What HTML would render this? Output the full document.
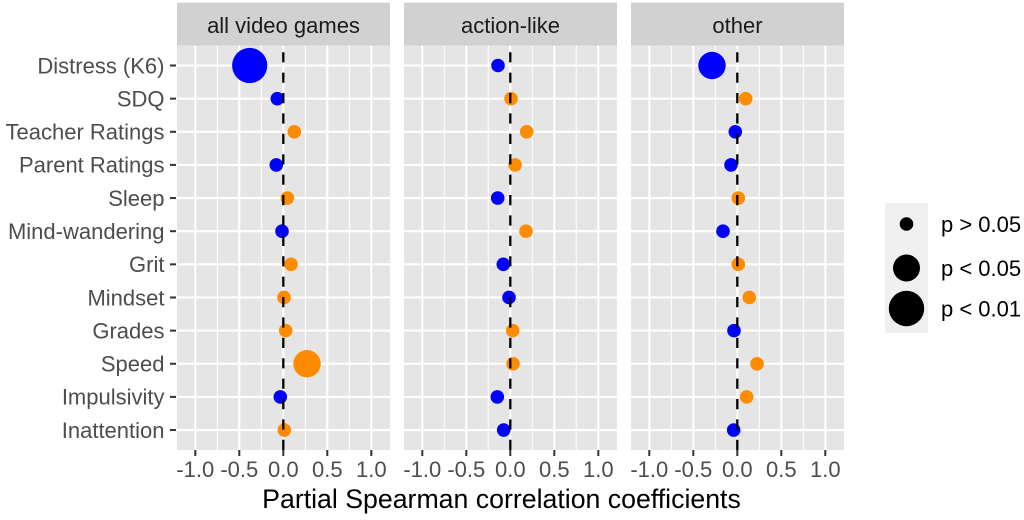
<!DOCTYPE html>
<html>
<head>
<meta charset="utf-8">
<style>
  html, body { margin: 0; padding: 0; background: #ffffff; }
  svg { display: block; }
  text { font-family: "Liberation Sans", Arial, Helvetica, sans-serif; }
</style>
</head>
<body>
<svg width="1024" height="520" viewBox="0 0 1024 520" xmlns="http://www.w3.org/2000/svg">
  <rect x="0" y="0" width="1024" height="520" fill="#ffffff"/>
  <defs>
    <g id="panel">
      <rect x="0" y="2.7" width="213" height="43" fill="#D1D1D1"/>
      <rect x="0" y="45.7" width="213" height="404.3" fill="#E5E5E5"/>
      <!-- minor vertical grid -->
      <g stroke="#FFFFFF" stroke-width="1.05">
        <line x1="40.3" y1="45.7" x2="40.3" y2="450"/>
        <line x1="84.3" y1="45.7" x2="84.3" y2="450"/>
        <line x1="128.3" y1="45.7" x2="128.3" y2="450"/>
        <line x1="172.3" y1="45.7" x2="172.3" y2="450"/>
      </g>
      <!-- major vertical grid -->
      <g stroke="#FFFFFF" stroke-width="2.1">
        <line x1="18.3" y1="45.7" x2="18.3" y2="450"/>
        <line x1="62.3" y1="45.7" x2="62.3" y2="450"/>
        <line x1="106.3" y1="45.7" x2="106.3" y2="450"/>
        <line x1="150.3" y1="45.7" x2="150.3" y2="450"/>
        <line x1="194.3" y1="45.7" x2="194.3" y2="450"/>
      </g>
      <!-- major horizontal grid -->
      <g stroke="#FFFFFF" stroke-width="2.1">
        <line x1="0" y1="65.5" x2="213" y2="65.5"/>
        <line x1="0" y1="98.64" x2="213" y2="98.64"/>
        <line x1="0" y1="131.78" x2="213" y2="131.78"/>
        <line x1="0" y1="164.92" x2="213" y2="164.92"/>
        <line x1="0" y1="198.06" x2="213" y2="198.06"/>
        <line x1="0" y1="231.2" x2="213" y2="231.2"/>
        <line x1="0" y1="264.34" x2="213" y2="264.34"/>
        <line x1="0" y1="297.48" x2="213" y2="297.48"/>
        <line x1="0" y1="330.62" x2="213" y2="330.62"/>
        <line x1="0" y1="363.76" x2="213" y2="363.76"/>
        <line x1="0" y1="396.9" x2="213" y2="396.9"/>
        <line x1="0" y1="430.04" x2="213" y2="430.04"/>
      </g>
      <!-- x ticks -->
      <g stroke="#333333" stroke-width="2">
        <line x1="18.3" y1="450" x2="18.3" y2="456"/>
        <line x1="62.3" y1="450" x2="62.3" y2="456"/>
        <line x1="106.3" y1="450" x2="106.3" y2="456"/>
        <line x1="150.3" y1="450" x2="150.3" y2="456"/>
        <line x1="194.3" y1="450" x2="194.3" y2="456"/>
      </g>
      <!-- x tick labels -->
      <g font-size="22" fill="#4D4D4D" text-anchor="middle">
        <text x="18.3" y="477">-1.0</text>
        <text x="62.3" y="477">-0.5</text>
        <text x="106.3" y="477">0.0</text>
        <text x="150.3" y="477">0.5</text>
        <text x="194.3" y="477">1.0</text>
      </g>
    </g>
  </defs>

  <use href="#panel" x="177" y="0"/>
  <use href="#panel" x="404" y="0"/>
  <use href="#panel" x="631" y="0"/>

  <!-- strip labels -->
  <g font-size="22" fill="#1A1A1A" text-anchor="middle">
    <text x="283.5" y="33">all video games</text>
    <text x="510.5" y="33">action-like</text>
    <text x="737.5" y="33">other</text>
  </g>

  <!-- y tick marks -->
  <g stroke="#333333" stroke-width="2">
    <line x1="170" y1="65.5" x2="176" y2="65.5"/>
    <line x1="170" y1="98.64" x2="176" y2="98.64"/>
    <line x1="170" y1="131.78" x2="176" y2="131.78"/>
    <line x1="170" y1="164.92" x2="176" y2="164.92"/>
    <line x1="170" y1="198.06" x2="176" y2="198.06"/>
    <line x1="170" y1="231.2" x2="176" y2="231.2"/>
    <line x1="170" y1="264.34" x2="176" y2="264.34"/>
    <line x1="170" y1="297.48" x2="176" y2="297.48"/>
    <line x1="170" y1="330.62" x2="176" y2="330.62"/>
    <line x1="170" y1="363.76" x2="176" y2="363.76"/>
    <line x1="170" y1="396.9" x2="176" y2="396.9"/>
    <line x1="170" y1="430.04" x2="176" y2="430.04"/>
  </g>

  <!-- y tick labels -->
  <g font-size="22" fill="#4D4D4D" text-anchor="end">
    <text x="164.5" y="73.3">Distress (K6)</text>
    <text x="164.5" y="106.4">SDQ</text>
    <text x="164.5" y="139.6">Teacher Ratings</text>
    <text x="164.5" y="172.7">Parent Ratings</text>
    <text x="164.5" y="205.9">Sleep</text>
    <text x="164.5" y="239">Mind-wandering</text>
    <text x="164.5" y="272.1">Grit</text>
    <text x="164.5" y="305.3">Mindset</text>
    <text x="164.5" y="338.4">Grades</text>
    <text x="164.5" y="371.6">Speed</text>
    <text x="164.5" y="404.7">Impulsivity</text>
    <text x="164.5" y="437.8">Inattention</text>
  </g>

  <!-- points: panel 1 -->
  <g>
    <circle cx="249.7" cy="65.5" r="17.6" fill="#0000FF"/>
    <circle cx="277.3" cy="98.64" r="6.8" fill="#0000FF"/>
    <circle cx="294.3" cy="131.78" r="6.8" fill="#FF8C00"/>
    <circle cx="276.3" cy="164.92" r="6.8" fill="#0000FF"/>
    <circle cx="287.3" cy="198.06" r="6.8" fill="#FF8C00"/>
    <circle cx="282" cy="231.2" r="6.8" fill="#0000FF"/>
    <circle cx="291" cy="264.34" r="6.8" fill="#FF8C00"/>
    <circle cx="284" cy="297.48" r="6.8" fill="#FF8C00"/>
    <circle cx="285.7" cy="330.62" r="6.8" fill="#FF8C00"/>
    <circle cx="307" cy="363.76" r="13.7" fill="#FF8C00"/>
    <circle cx="280.3" cy="396.9" r="6.8" fill="#0000FF"/>
    <circle cx="284.3" cy="430.04" r="6.8" fill="#FF8C00"/>
  </g>
  <!-- points: panel 2 -->
  <g>
    <circle cx="498" cy="65.5" r="6.8" fill="#0000FF"/>
    <circle cx="511" cy="98.64" r="6.8" fill="#FF8C00"/>
    <circle cx="526.7" cy="131.78" r="6.8" fill="#FF8C00"/>
    <circle cx="515" cy="164.92" r="6.8" fill="#FF8C00"/>
    <circle cx="497.7" cy="198.06" r="6.8" fill="#0000FF"/>
    <circle cx="526" cy="231.2" r="6.8" fill="#FF8C00"/>
    <circle cx="503.3" cy="264.34" r="6.8" fill="#0000FF"/>
    <circle cx="509" cy="297.48" r="6.8" fill="#0000FF"/>
    <circle cx="512.7" cy="330.62" r="6.8" fill="#FF8C00"/>
    <circle cx="513" cy="363.76" r="6.8" fill="#FF8C00"/>
    <circle cx="497.3" cy="396.9" r="6.8" fill="#0000FF"/>
    <circle cx="503.7" cy="430.04" r="6.8" fill="#0000FF"/>
  </g>
  <!-- points: panel 3 -->
  <g>
    <circle cx="712" cy="65.5" r="13.7" fill="#0000FF"/>
    <circle cx="745.7" cy="98.64" r="6.8" fill="#FF8C00"/>
    <circle cx="735.3" cy="131.78" r="6.8" fill="#0000FF"/>
    <circle cx="731" cy="164.92" r="6.8" fill="#0000FF"/>
    <circle cx="738.3" cy="198.06" r="6.8" fill="#FF8C00"/>
    <circle cx="723" cy="231.2" r="6.8" fill="#0000FF"/>
    <circle cx="738.3" cy="264.34" r="6.8" fill="#FF8C00"/>
    <circle cx="749.3" cy="297.48" r="6.8" fill="#FF8C00"/>
    <circle cx="734" cy="330.62" r="6.8" fill="#0000FF"/>
    <circle cx="757" cy="363.76" r="6.8" fill="#FF8C00"/>
    <circle cx="746.7" cy="396.9" r="6.8" fill="#FF8C00"/>
    <circle cx="733.7" cy="430.04" r="6.8" fill="#0000FF"/>
  </g>

  <!-- dashed zero lines (on top of points) -->
  <g stroke="#000000" stroke-width="2.3" stroke-dasharray="10.2 10.2">
    <line x1="283.3" y1="450" x2="283.3" y2="45.7"/>
    <line x1="510.3" y1="450" x2="510.3" y2="45.7"/>
    <line x1="737.3" y1="450" x2="737.3" y2="45.7"/>
  </g>

  <!-- axis title -->
  <text x="501.5" y="508" font-size="26.7" fill="#000000" text-anchor="middle">Partial Spearman correlation coefficients</text>

  <!-- legend -->
  <rect x="885" y="203" width="43" height="130" fill="#F0F0F0"/>
  <circle cx="906.5" cy="224" r="6.8" fill="#000000"/>
  <circle cx="906.5" cy="268" r="13.5" fill="#000000"/>
  <circle cx="906.5" cy="308.5" r="17.7" fill="#000000"/>
  <g font-size="22" fill="#000000">
    <text x="941" y="231.8">p &gt; 0.05</text>
    <text x="941" y="275.8">p &lt; 0.05</text>
    <text x="941" y="316.3">p &lt; 0.01</text>
  </g>
</svg>
</body>
</html>
